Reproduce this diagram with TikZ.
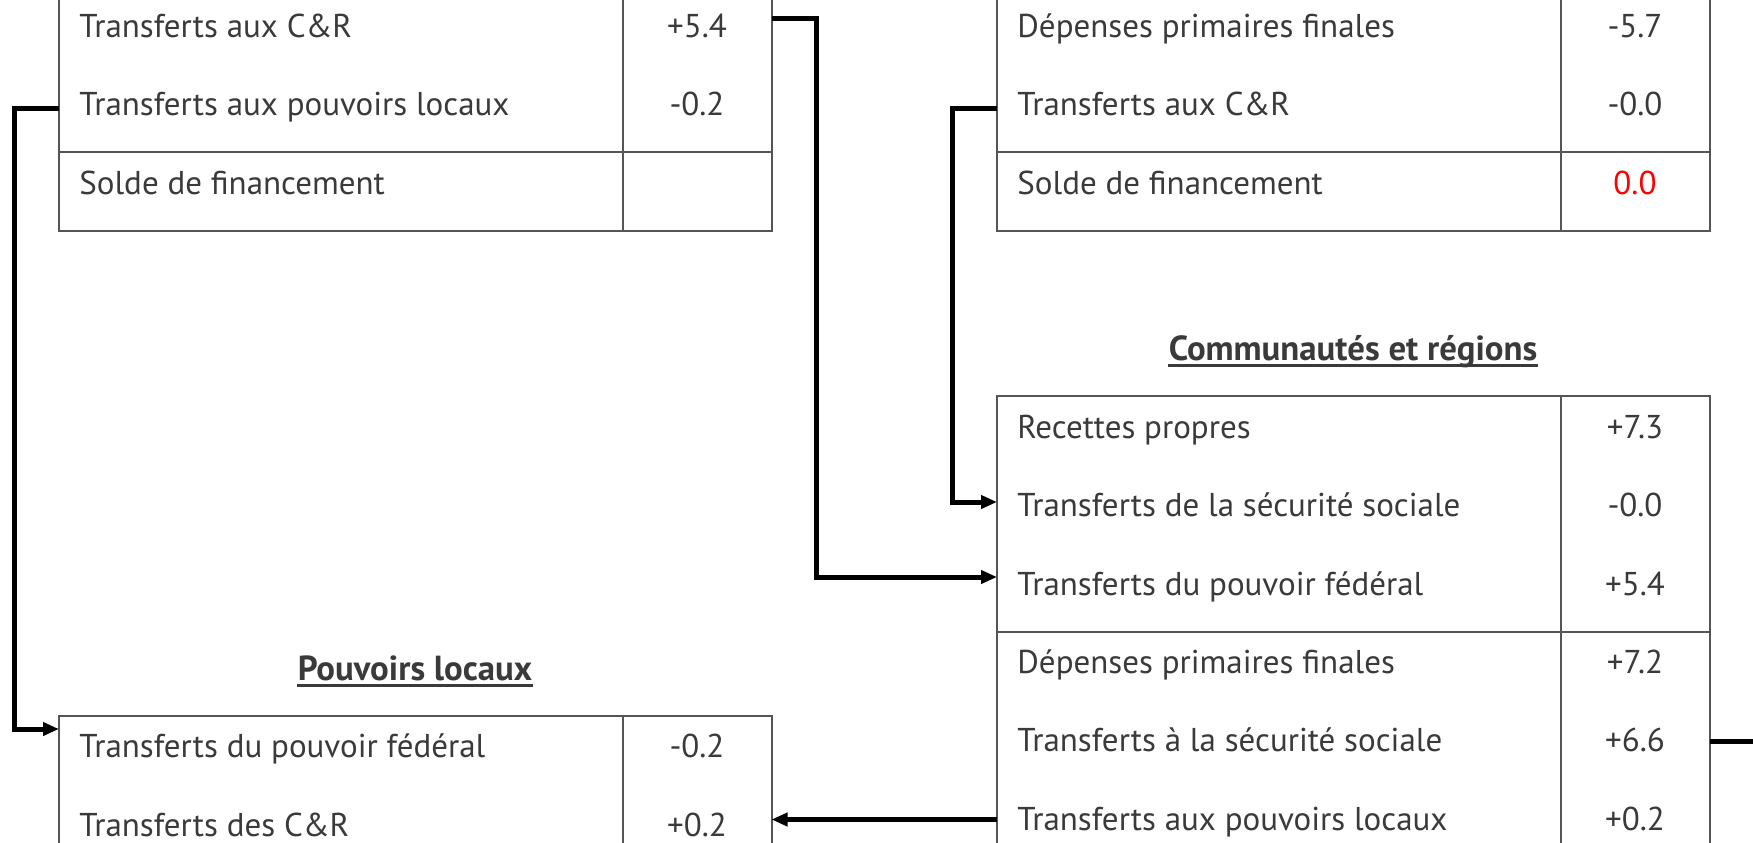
\documentclass[tikz,border=0pt]{standalone}
\usepackage{fontspec}
\setmainfont{PT Sans}
\usetikzlibrary{arrows.meta}
\definecolor{txt}{HTML}{3A3A3A}
\definecolor{frame}{HTML}{555555}
\begin{document}
\begin{tikzpicture}[x=0.5pt,y=-0.5pt,
  lbl/.style={anchor=base west, inner sep=0pt, text=txt, font=\fontsize{16.5}{19}\selectfont},
  num/.style={anchor=base, inner sep=0pt, text=txt, font=\fontsize{16.5}{19}\selectfont},
  ttl/.style={anchor=base, inner sep=0pt, text=txt, font=\fontsize{17.4}{20}\selectfont\bfseries},
  tline/.style={draw=frame, line width=1pt},
  uline/.style={draw=txt, line width=1.2pt},
  conn/.style={draw=black, line width=2.5pt},
  arr/.style={-{Triangle[length=8pt,width=6.5pt]}}]
\clip (0,0) rectangle (1753,842);
\fill[white] (0,0) rectangle (1753,842);

% ---- Federal table (top left)
\draw[tline] (59,-100) rectangle (771.5,230.5);
\draw[tline] (622.5,-100) -- (622.5,230.5);
\draw[tline] (59,152) -- (771.5,152);
\node[lbl] (fA) at (79,37) {Transferts aux C\&R};
\node[num] (fAv) at (697,37) {+5.4};
\node[lbl] (fB) at (79,115.5) {Transferts aux pouvoirs locaux};
\node[num] (fBv) at (697,115.5) {-0.2};
\node[lbl] (fS) at (79,194) {Solde de financement};

% ---- Social security table (top right)
\draw[tline] (997,-100) rectangle (1709.5,230.5);
\draw[tline] (1560.5,-100) -- (1560.5,230.5);
\draw[tline] (997,152) -- (1709.5,152);
\node[lbl] (sA) at (1017,37) {Dépenses primaires finales};
\node[num] (sAv) at (1635,37) {-5.7};
\node[lbl] (sB) at (1017,115.5) {Transferts aux C\&R};
\node[num] (sBv) at (1635,115.5) {-0.0};
\node[lbl] (sS) at (1017,194) {Solde de financement};
\node[num, text=red] (sSv) at (1635,194) {0.0};

% ---- Communautés et régions
\node[ttl] (tCR) at (1353,360) {Communautés et régions};
\draw[uline] ([yshift=-2.8pt]tCR.base west) -- ([yshift=-2.8pt]tCR.base east);
\draw[tline] (997,396) rectangle (1709.5,900);
\draw[tline] (1560.5,396) -- (1560.5,900);
\draw[tline] (997,631.5) -- (1709.5,631.5);
\node[lbl] (c1) at (1017,438) {Recettes propres};
\node[num] (c1v) at (1635,438) {+7.3};
\node[lbl] (c2) at (1017,516.5) {Transferts de la sécurité sociale};
\node[num] (c2v) at (1635,516.5) {-0.0};
\node[lbl] (c3) at (1017,595) {Transferts du pouvoir fédéral};
\node[num] (c3v) at (1635,595) {+5.4};
\node[lbl] (c4) at (1017,673) {Dépenses primaires finales};
\node[num] (c4v) at (1635,673) {+7.2};
\node[lbl] (c5) at (1017,751.5) {Transferts à la sécurité sociale};
\node[num] (c5v) at (1635,751.5) {+6.6};
\node[lbl] (c6) at (1017,830) {Transferts aux pouvoirs locaux};
\node[num] (c6v) at (1635,830) {+0.2};

% ---- Pouvoirs locaux
\node[ttl] (tPL) at (415,680) {Pouvoirs locaux};
\draw[uline] ([yshift=-2.8pt]tPL.base west) -- ([yshift=-2.8pt]tPL.base east);
\draw[tline] (59,715.5) rectangle (771.5,950);
\draw[tline] (622.5,715.5) -- (622.5,950);
\node[lbl] (p1) at (79,757.5) {Transferts du pouvoir fédéral};
\node[num] (p1v) at (697,757.5) {-0.2};
\node[lbl] (p2) at (79,836) {Transferts des C\&R};
\node[num] (p2v) at (697,836) {+0.2};

% ---- connector end points on table edges
\coordinate (fedCRout) at (771.5,18);
\coordinate (crFedIn) at (997,577);
\coordinate (secCRout) at (997,108.5);
\coordinate (crSecIn) at (997,502);
\coordinate (fedPLout) at (59,108.5);
\coordinate (plFedIn) at (59,729);
\coordinate (crPLout) at (997,819.5);
\coordinate (plCRin) at (771.5,819.5);
\coordinate (crSecOut) at (1709.5,741);
\coordinate (crSecEnd) at (1800,741);

% ---- connectors
\draw[conn,arr] (fedCRout) -- ++(44.5,0) |- (crFedIn);
\draw[conn,arr] (secCRout) -- ++(-44.5,0) |- (crSecIn);
\draw[conn,arr] (fedPLout) -- ++(-44.5,0) |- (plFedIn);
\draw[conn,arr] (crPLout) -- (plCRin);
\draw[conn] (crSecOut) -- (crSecEnd);
\end{tikzpicture}
\end{document}
